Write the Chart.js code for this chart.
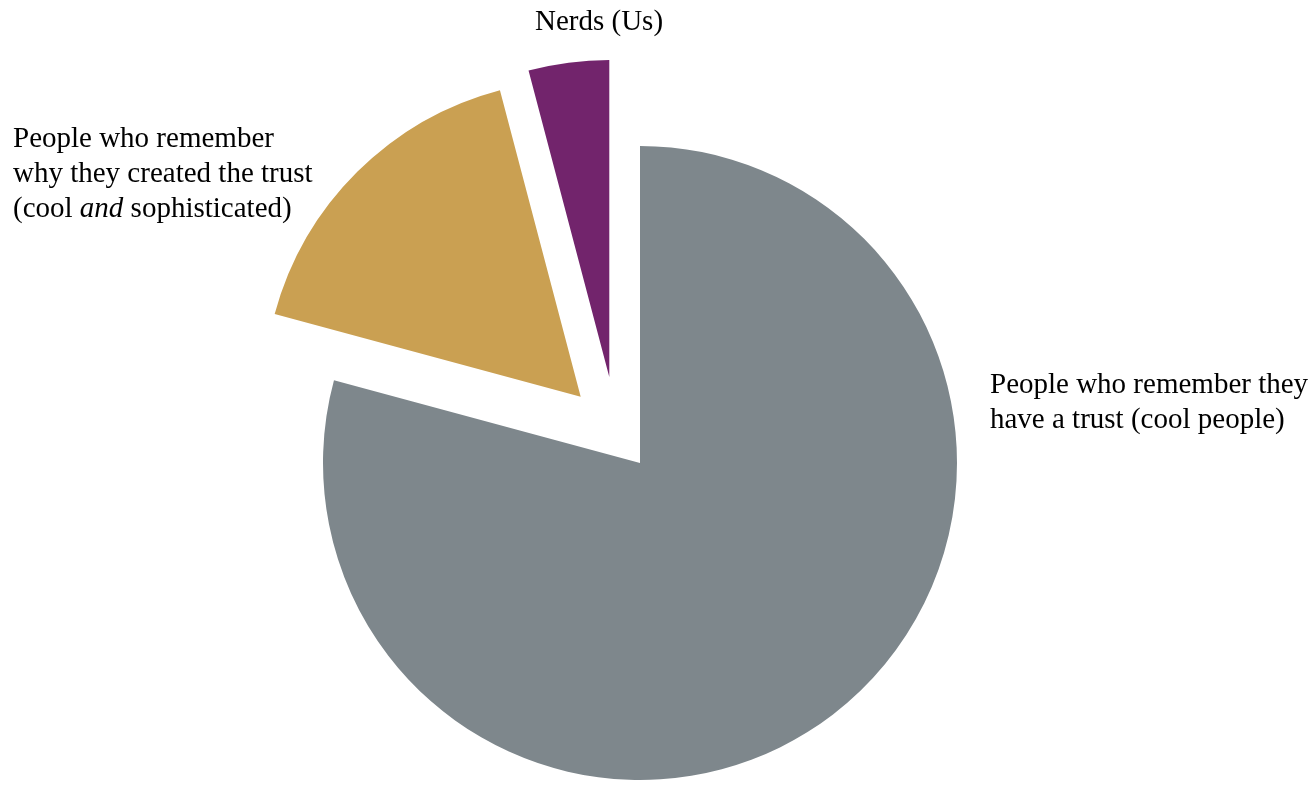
<!DOCTYPE html>
<html>
<head>
<meta charset="utf-8">
<title>Who remembers their trust</title>
<script src="https://cdn.jsdelivr.net/npm/chart.js@4"></script>
<style>
    body { margin: 0; background: #fff; }
    #wrap { position: relative; width: 1316px; height: 785px; overflow: hidden; }
    #wrap canvas { position: absolute; left: 0; top: 0; }
    .lbl {
        position: absolute;
        font-family: 'Liberation Serif', 'Times New Roman', serif;
        font-size: 29px;
        line-height: 35px;
        color: #000;
        white-space: nowrap;
    }
</style>
</head>
<body>
<div id="wrap"></div>
<script>
// Data
const categories = [
    'People who remember they have a trust (cool people)',
    'People who remember why they created the trust (cool and sophisticated)',
    'Nerds (Us)'
];
const shares = [79.2, 16.7, 4.1];

// Label text as shown on the chart (line breaks + italics)
const labelLines = [
    ['People who remember they', 'have a trust (cool people)'],
    ['People who remember', 'why they created the trust', '(cool <i>and</i> sophisticated)'],
    ['Nerds (Us)']
];

// Styling / layout
const colors = ['#7E878C', '#CAA052', '#72246C'];
const W = 1316, H = 785;
const pieCenter = [640, 463];
const pieRadius = 317;
// how far each slice is pulled out of the pie (px)
const explode = [[0, 0], [-59.3, -66.3], [-30.7, -86]];
const labelPos = [[990, 366], [13, 120], [535, 3]];

// Padding that puts the chart area centre at (cx, cy)
function paddingFor(cx, cy) {
    return {
        left: Math.max(0, 2 * cx - W),
        right: Math.max(0, W - 2 * cx),
        top: Math.max(0, 2 * cy - H),
        bottom: Math.max(0, H - 2 * cy)
    };
}

const wrap = document.getElementById('wrap');

// One chart per slice so every slice can be pulled out on its own
categories.forEach((name, i) => {
    const canvas = document.createElement('canvas');
    canvas.width = W;
    canvas.height = H;
    wrap.appendChild(canvas);

    new Chart(canvas.getContext('2d'), {
        type: 'pie',
        data: {
            labels: categories,
            datasets: [{
                data: shares,
                backgroundColor: colors.map((c, j) => j === i ? c : 'rgba(0,0,0,0)'),
                borderWidth: 0
            }]
        },
        options: {
            responsive: false,
            animation: false,
            radius: pieRadius,
            layout: {
                padding: paddingFor(pieCenter[0] + explode[i][0], pieCenter[1] + explode[i][1])
            },
            plugins: {
                legend: { display: false },
                tooltip: { enabled: false }
            }
        }
    });
});

// Category labels
labelLines.forEach((lines, i) => {
    const div = document.createElement('div');
    div.className = 'lbl';
    div.style.left = labelPos[i][0] + 'px';
    div.style.top = labelPos[i][1] + 'px';
    div.innerHTML = lines.join('<br>');
    wrap.appendChild(div);
});
</script>
</body>
</html>
